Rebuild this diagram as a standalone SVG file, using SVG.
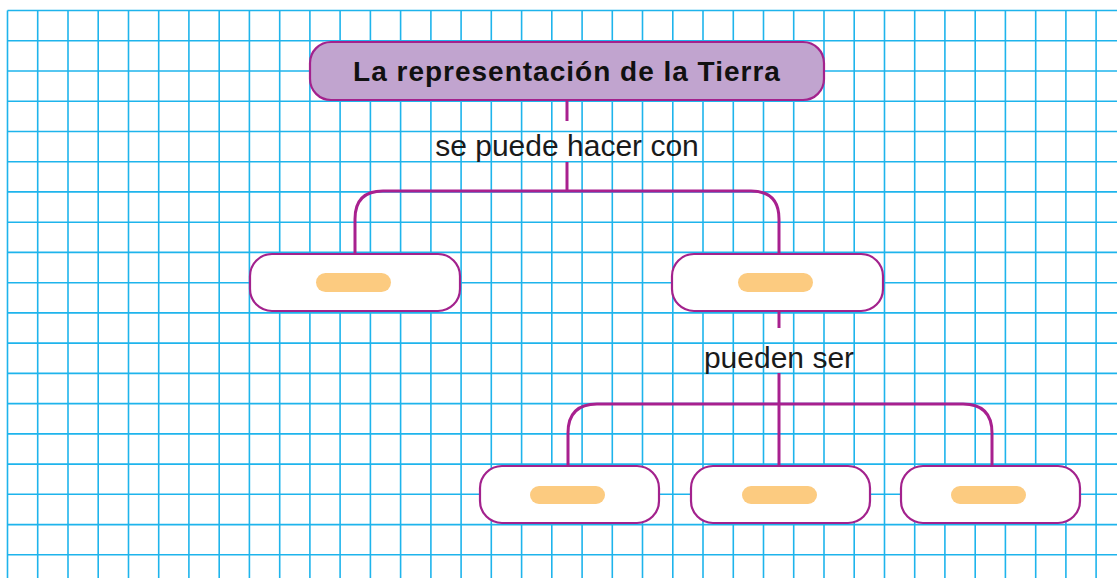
<svg xmlns="http://www.w3.org/2000/svg" width="1117" height="578" viewBox="0 0 1117 578">
<style>
.grid line{stroke:#1eb4ec;stroke-width:1.6}
.box{fill:#ffffff;stroke:#a3228d;stroke-width:2.2}
.top{fill:#c1a4cf;stroke:#a3228d;stroke-width:2.2}
.pill{fill:#fccb80}
.conn{fill:none;stroke:#a8208f;stroke-width:3}
.title{font-family:"Liberation Sans",Arial,sans-serif;font-weight:bold;font-size:28px;letter-spacing:1px;fill:#111}
.lbl{font-family:"Liberation Sans",Arial,sans-serif;font-size:30px;fill:#1a1a1a}
</style>
<rect width="1117" height="578" fill="#ffffff"/>
<g class="grid">
<line x1="7.5" y1="10.5" x2="7.5" y2="578"/><line x1="37.7" y1="10.5" x2="37.7" y2="578"/><line x1="68" y1="10.5" x2="68" y2="578"/><line x1="98.2" y1="10.5" x2="98.2" y2="578"/><line x1="128.5" y1="10.5" x2="128.5" y2="578"/><line x1="158.7" y1="10.5" x2="158.7" y2="578"/><line x1="188.9" y1="10.5" x2="188.9" y2="578"/><line x1="219.2" y1="10.5" x2="219.2" y2="578"/><line x1="249.4" y1="10.5" x2="249.4" y2="578"/><line x1="279.7" y1="10.5" x2="279.7" y2="578"/><line x1="309.9" y1="10.5" x2="309.9" y2="578"/><line x1="340.1" y1="10.5" x2="340.1" y2="578"/><line x1="370.4" y1="10.5" x2="370.4" y2="578"/><line x1="400.6" y1="10.5" x2="400.6" y2="578"/><line x1="430.9" y1="10.5" x2="430.9" y2="578"/><line x1="461.1" y1="10.5" x2="461.1" y2="578"/><line x1="491.3" y1="10.5" x2="491.3" y2="578"/><line x1="521.6" y1="10.5" x2="521.6" y2="578"/><line x1="551.8" y1="10.5" x2="551.8" y2="578"/><line x1="582.1" y1="10.5" x2="582.1" y2="578"/><line x1="612.3" y1="10.5" x2="612.3" y2="578"/><line x1="642.5" y1="10.5" x2="642.5" y2="578"/><line x1="672.8" y1="10.5" x2="672.8" y2="578"/><line x1="703" y1="10.5" x2="703" y2="578"/><line x1="733.3" y1="10.5" x2="733.3" y2="578"/><line x1="763.5" y1="10.5" x2="763.5" y2="578"/><line x1="793.7" y1="10.5" x2="793.7" y2="578"/><line x1="824" y1="10.5" x2="824" y2="578"/><line x1="854.2" y1="10.5" x2="854.2" y2="578"/><line x1="884.5" y1="10.5" x2="884.5" y2="578"/><line x1="914.7" y1="10.5" x2="914.7" y2="578"/><line x1="944.9" y1="10.5" x2="944.9" y2="578"/><line x1="975.2" y1="10.5" x2="975.2" y2="578"/><line x1="1005.4" y1="10.5" x2="1005.4" y2="578"/><line x1="1035.7" y1="10.5" x2="1035.7" y2="578"/><line x1="1065.9" y1="10.5" x2="1065.9" y2="578"/><line x1="1096.1" y1="10.5" x2="1096.1" y2="578"/>
<line x1="7.5" y1="10.5" x2="1117" y2="10.5"/><line x1="7.5" y1="40.7" x2="1117" y2="40.7"/><line x1="7.5" y1="71" x2="1117" y2="71"/><line x1="7.5" y1="101.2" x2="1117" y2="101.2"/><line x1="7.5" y1="131.5" x2="1117" y2="131.5"/><line x1="7.5" y1="161.7" x2="1117" y2="161.7"/><line x1="7.5" y1="191.9" x2="1117" y2="191.9"/><line x1="7.5" y1="222.2" x2="1117" y2="222.2"/><line x1="7.5" y1="252.4" x2="1117" y2="252.4"/><line x1="7.5" y1="282.7" x2="1117" y2="282.7"/><line x1="7.5" y1="312.9" x2="1117" y2="312.9"/><line x1="7.5" y1="343.1" x2="1117" y2="343.1"/><line x1="7.5" y1="373.4" x2="1117" y2="373.4"/><line x1="7.5" y1="403.6" x2="1117" y2="403.6"/><line x1="7.5" y1="433.9" x2="1117" y2="433.9"/><line x1="7.5" y1="464.1" x2="1117" y2="464.1"/><line x1="7.5" y1="494.3" x2="1117" y2="494.3"/><line x1="7.5" y1="524.6" x2="1117" y2="524.6"/><line x1="7.5" y1="554.8" x2="1117" y2="554.8"/>
</g>
<g id="connectors">
<line class="conn" x1="567" y1="100" x2="567" y2="121"/>
<line class="conn" x1="567" y1="162" x2="567" y2="191"/>
<path class="conn" d="M355 253 V219 Q355 191 383 191 H751 Q779 191 779 219 V253"/>
<line class="conn" x1="779" y1="311" x2="779" y2="328"/>
<line class="conn" x1="779" y1="373" x2="779" y2="466"/>
<path class="conn" d="M568 466 V433 Q568 404 597 404 H963 Q992 404 992 433 V466"/>
</g>
<g id="node-root">
<rect class="top" x="310" y="42" width="514" height="58" rx="21"/>
<text class="title" x="567" y="81" text-anchor="middle">La representación de la Tierra</text>
</g>
<g id="label-1"><text class="lbl" x="567" y="156" text-anchor="middle">se puede hacer con</text></g>
<g id="node-a">
<rect class="box" x="250" y="254" width="210" height="57" rx="22"/>
<rect class="pill" x="316" y="273" width="75" height="19" rx="9.5"/>
</g>
<g id="node-b">
<rect class="box" x="672" y="254" width="211" height="57" rx="22"/>
<rect class="pill" x="738" y="273" width="75" height="19" rx="9.5"/>
</g>
<g id="label-2"><text class="lbl" x="779" y="368" text-anchor="middle">pueden ser</text></g>
<g id="node-c">
<rect class="box" x="480" y="466" width="179" height="57" rx="22"/>
<rect class="pill" x="530" y="486" width="75" height="18" rx="9"/>
</g>
<g id="node-d">
<rect class="box" x="691" y="466" width="179" height="57" rx="22"/>
<rect class="pill" x="742" y="486" width="75" height="18" rx="9"/>
</g>
<g id="node-e">
<rect class="box" x="901" y="466" width="179" height="57" rx="22"/>
<rect class="pill" x="951" y="486" width="75" height="18" rx="9"/>
</g>
</svg>
